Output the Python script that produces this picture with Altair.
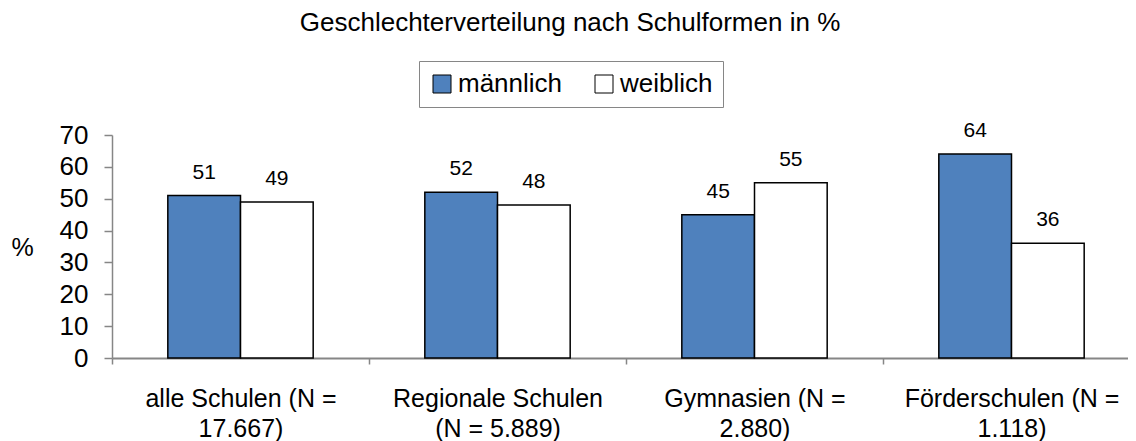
import altair as alt
import pandas as pd

categories = ["alle Schulen (N =|17.667)", "Regionale Schulen|(N = 5.889)",
              "Gymnasien (N =|2.880)", "Förderschulen (N =|1.118)"]
series = ["männlich", "weiblich"]
maennlich = [51, 52, 45, 64]
weiblich = [49, 48, 55, 36]
y_ticks = [0, 10, 20, 30, 40, 50, 60, 70]

rows = []
for c, m, w in zip(categories, maennlich, weiblich):
    rows.append({"Schulform": c, "Geschlecht": series[0], "Wert": m})
    rows.append({"Schulform": c, "Geschlecht": series[1], "Wert": w})
df = pd.DataFrame(rows)

FONT = "Liberation Sans"

x = alt.X("Schulform:N", sort=categories,
          scale=alt.Scale(paddingInner=0, paddingOuter=0, range=[0, 1028]),
          axis=alt.Axis(title=None, labelAngle=0, labelExpr="split(datum.label, '|')",
                        labelFontSize=25, labelFont=FONT, labelColor="black",
                        labelLineHeight=30, labelPadding=22, labelBaseline="top",
                        labelLimit=400, labelOverlap=False,
                        tickBand="extent", tickSize=6, tickColor="#868686", tickWidth=1.5,
                        domainColor="#868686", domainWidth=2))
xo = alt.XOffset("Geschlecht:N", sort=series,
                 scale=alt.Scale(paddingInner=0, paddingOuter=0.768))
y = alt.Y("Wert:Q", scale=alt.Scale(domain=[0, 70], nice=False, zero=True),
          axis=alt.Axis(values=y_ticks, title="%", titleAngle=0, titleX=-90, titleY=112,
                        titleAlign="center", titleBaseline="middle", titleFontSize=25,
                        titleFont=FONT, titleFontWeight="normal", titleColor="black",
                        labelFontSize=26, labelFont=FONT, labelColor="black", labelPadding=16,
                        labelOverlap=False, labelFlush=False, labelBound=False,
                        tickSize=8, tickColor="#868686", tickWidth=1.5,
                        domainColor="#868686", domainWidth=1.5, grid=False))

color = alt.Color("Geschlecht:N", sort=series,
                  scale=alt.Scale(domain=series, range=["#4F81BD", "#FFFFFF"]),
                  legend=alt.Legend(title=None, orient="none", direction="horizontal",
                                    legendX=307, legendY=-74, symbolType="square",
                                    symbolSize=324, symbolStrokeColor="black",
                                    symbolStrokeWidth=1, labelFontSize=26, labelFont=FONT,
                                    labelColor="black", labelOffset=3, columnPadding=28,
                                    padding=10, strokeColor="#868686"))

bars = alt.Chart(df).mark_bar(stroke="black", strokeWidth=1.5).encode(
    x=x, xOffset=xo, y=y, color=color)

labels = alt.Chart(df).mark_text(dy=-23, baseline="middle", fontSize=21, font=FONT,
                                 color="black").encode(
    x=x, xOffset=xo, y=y, text="Wert:Q")

chart = alt.layer(bars, labels).properties(
    width=1016, height=223,
    autosize=alt.AutoSizeParams(type="none"),
    padding={"left": 104, "top": 127, "right": 0, "bottom": 84},
    title=alt.TitleParams("Geschlechterverteilung nach Schulformen in %", fontSize=26,
                          font=FONT, fontWeight="normal", color="black", anchor="middle",
                          dx=-50, dy=6, offset=5, baseline="bottom"),
).configure_view(stroke=None)

chart.save("out.html", embed_options={"renderer": "svg", "actions": False})
